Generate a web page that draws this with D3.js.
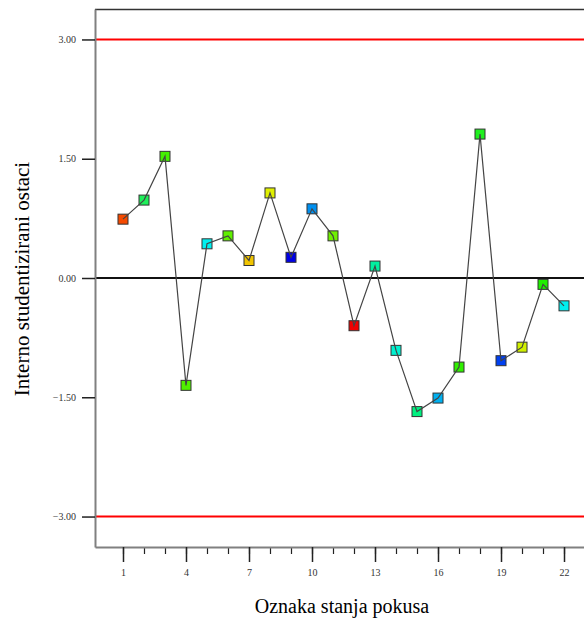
<!DOCTYPE html>
<html>
<head>
<meta charset="utf-8">
<script src="https://cdn.jsdelivr.net/npm/d3@7"></script>
<style>
html, body { margin: 0; padding: 0; background: #fff; }
svg { display: block; }
</style>
</head>
<body>
<svg id="chart" width="584" height="621"></svg>
<script>
const runs = [1,2,3,4,5,6,7,8,9,10,11,12,13,14,15,16,17,18,19,20,21,22];
const residuals = [0.74,0.98,1.53,-1.35,0.43,0.53,0.22,1.07,0.26,0.87,0.53,-0.60,0.15,-0.91,-1.68,-1.51,-1.12,1.81,-1.04,-0.87,-0.08,-0.35];
const markerColors = ["#f54a00","#1ef05a","#44f000","#50f000","#00f0f0","#60f000","#f0c400","#e0f000","#0000e6","#0090f0","#70f000","#f00000","#00f0a0","#00f0d0","#00f080","#00b0f0","#30f000","#20f020","#0040f0","#d0f000","#20f000","#00f0f0"];
const xTickValues = [1,4,7,10,13,16,19,22];
const yTickValues = [3.00,1.50,0.00,-1.50,-3.00];
const limitValues = [3, -3];

const svg = d3.select("#chart");
const mLeft = 95, mTop = 9, mRight = 592, mBottom = 547;

const x = d3.scaleLinear().domain([-0.333, 23.333]).range([mLeft, mRight]);
const y = d3.scaleLinear().domain([-3.383, 3.383]).range([mBottom, mTop]);

// frame
svg.append("line").attr("x1", mLeft).attr("x2", 600).attr("y1", mTop + 0.5).attr("y2", mTop + 0.5)
  .attr("stroke", "#333").attr("stroke-width", 1.5);

// limit lines
svg.selectAll("line.limit").data(limitValues).enter().append("line")
  .attr("class", "limit")
  .attr("x1", mLeft).attr("x2", 600)
  .attr("y1", d => y(d)).attr("y2", d => y(d))
  .attr("stroke", "#ff0000").attr("stroke-width", 2);

// zero line
svg.append("line").attr("x1", mLeft).attr("x2", 600)
  .attr("y1", y(0)).attr("y2", y(0))
  .attr("stroke", "#111").attr("stroke-width", 2);

// Y axis
const yAxis = d3.axisLeft(y).tickValues(yTickValues).tickSize(13).tickSizeOuter(0)
  .tickFormat(d3.format(".2f"));
const gy = svg.append("g").attr("transform", `translate(${mLeft},0)`).call(yAxis);
gy.select(".domain").attr("stroke", "#808080").attr("stroke-width", 2);
gy.selectAll(".tick line").attr("stroke", "#222").attr("stroke-width", 1.5);
gy.selectAll(".tick text").attr("font-family", "Liberation Serif, Times New Roman, serif")
  .attr("font-size", 10).attr("fill", "#333").attr("x", -19);

// X axis minor ticks
const xMinor = d3.axisBottom(x).tickValues(runs).tickSize(7).tickSizeOuter(0).tickFormat("");
const gxm = svg.append("g").attr("transform", `translate(0,${mBottom})`).call(xMinor);
gxm.select(".domain").remove();
gxm.selectAll(".tick line").attr("stroke", "#222").attr("stroke-width", 1.2);

// X axis major ticks
const xAxis = d3.axisBottom(x).tickValues(xTickValues).tickSize(15).tickSizeOuter(0).tickFormat(d3.format("d"));
const gx = svg.append("g").attr("transform", `translate(0,${mBottom})`).call(xAxis);
gx.select(".domain").attr("stroke", "#808080").attr("stroke-width", 2);
gx.selectAll(".tick line").attr("stroke", "#222").attr("stroke-width", 1.5);
gx.selectAll(".tick text").attr("font-family", "Liberation Serif, Times New Roman, serif")
  .attr("font-size", 10).attr("fill", "#333").attr("y", 22);

const pts = runs.map((r, i) => ({ r, v: residuals[i], c: markerColors[i] }));

// markers
const s = 10;
svg.selectAll("rect.pt").data(pts).enter().append("rect")
  .attr("class", "pt")
  .attr("x", d => x(d.r) - s / 2).attr("y", d => y(d.v) - s / 2)
  .attr("width", s).attr("height", s)
  .attr("fill", d => d.c).attr("stroke", "#333").attr("stroke-width", 1);

// connecting line (drawn over markers)
const line = d3.line().x(d => x(d.r)).y(d => y(d.v));
svg.append("path").datum(pts).attr("d", line)
  .attr("fill", "none").attr("stroke", "#444").attr("stroke-width", 1.2);

// axis titles
svg.append("text").attr("x", 342).attr("y", 613).attr("text-anchor", "middle")
  .attr("font-family", "Liberation Serif, Times New Roman, serif").attr("font-size", 20).attr("fill", "#000")
  .text("Oznaka stanja pokusa");
svg.append("text").attr("transform", "translate(29,279) rotate(-90)").attr("text-anchor", "middle")
  .attr("font-family", "Liberation Serif, Times New Roman, serif").attr("font-size", 21).attr("fill", "#000")
  .text("Interno studentizirani ostaci");
</script>
</body>
</html>
